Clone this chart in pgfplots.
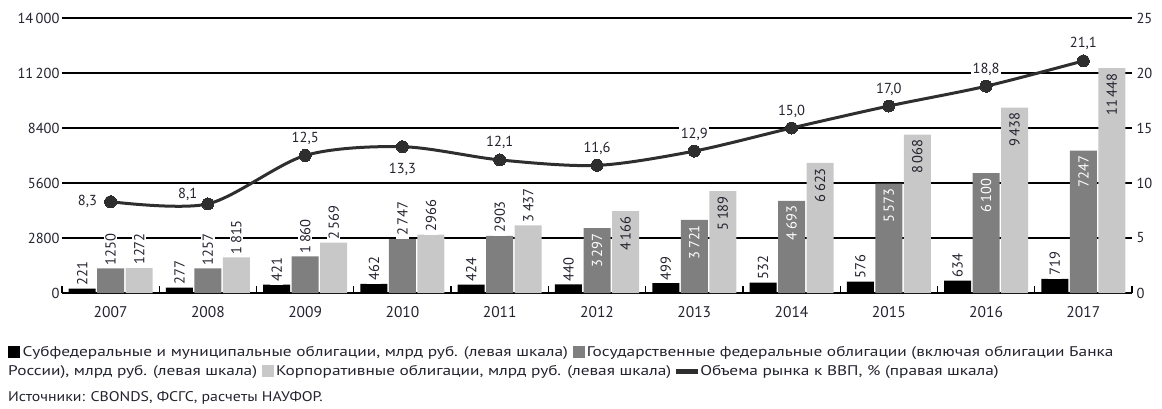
\documentclass[border=0pt]{standalone}
\usepackage{pgfplots}
\pgfplotsset{compat=1.18}
\usepackage{fontspec}
\setmainfont{PT Sans}
\newfontfamily\legfont{PT Sans}[FakeStretch=1.235]
\newfontfamily\srcfont{PT Sans}[FakeStretch=1.13]
\definecolor{cgrey}{HTML}{7F7F7F}
\definecolor{clight}{HTML}{C8C8C8}
\definecolor{cline}{HTML}{2E2E2E}
\definecolor{ctext}{HTML}{23232F}
\newcommand{\lf}{\fontsize{14.5}{16}\selectfont}
\begin{document}
\begin{tikzpicture}[x=1pt,y=1pt]
\path[use as bounding box] (-62,-115) rectangle (1100,293);
\begin{axis}[
  at={(0,0)}, anchor=south west, scale only axis,
  width=1070pt, height=275pt,
  xmin=-0.5, xmax=10.5, ymin=0, ymax=14000,
  scaled y ticks=false,
  axis x line*=bottom, axis y line*=left,
  y axis line style={draw=none},
  x axis line style={line width=1.6pt, black},
  xtick={0,1,2,3,4,5,6,7,8,9,10},
  xticklabels={2007,2008,2009,2010,2011,2012,2013,2014,2015,2016,2017},
  minor xtick={-0.5,0.5,1.5,2.5,3.5,4.5,5.5,6.5,7.5,8.5,9.5,10.5},
  major tick length=0pt, minor tick length=7pt, tick align=inside,
  every minor tick/.style={black, line width=1.2pt},
  ytick={0,2800,5600,8400,11200,14000},
  yticklabels={0,2800,5600,8400,11\,200,14\,000},
  ytick style={draw=none},
  ymajorgrids, major grid style={black, line width=1.1pt},
  tick label style={font=\lf, text=ctext},
  xticklabel style={yshift=-10pt, font=\fontsize{15.5}{17}\selectfont},
  yticklabel style={xshift=1pt},
  clip=false,
]
% black bars
\addplot[ybar, bar width=27pt, bar shift=0pt, fill=black, draw=none,
  nodes near coords, point meta=explicit symbolic,
  every node near coord/.append style={rotate=90, anchor=west, fill=white, inner xsep=3pt, inner ysep=1.5pt, font=\lf, text=ctext}]
  coordinates {(-0.293,221)[221] (0.707,277)[277] (1.707,421)[421] (2.707,462)[462] (3.707,424)[424] (4.707,440)[440] (5.707,499)[499] (6.707,532)[532] (7.707,576)[576] (8.707,634)[634] (9.707,719)[719]};
% grey bars
\addplot[ybar, bar width=27pt, bar shift=0pt, fill=cgrey, draw=none]
  coordinates {(0,1250) (1,1257) (2,1860) (3,2747) (4,2903) (5,3297) (6,3721) (7,4693) (8,5573) (9,6100) (10,7247)};
\addplot[ybar, bar width=27pt, bar shift=0pt, fill=none, draw=none,
  nodes near coords, point meta=explicit symbolic,
  every node near coord/.append style={rotate=90, anchor=west, fill=white, inner xsep=3pt, inner ysep=1.5pt, font=\lf, text=ctext}]
  coordinates {(0,1250)[1250] (1,1257)[1257] (2,1860)[1\,860] (3,2747)[2\,747] (4,2903)[2903]};
\addplot[ybar, bar width=27pt, bar shift=0pt, fill=none, draw=none,
  nodes near coords, point meta=explicit symbolic,
  every node near coord/.append style={rotate=90, anchor=east, inner xsep=5pt, inner ysep=1.5pt, font=\lf, text=white}]
  coordinates {(5,3297)[3\,297] (6,3721)[3\,721] (7,4693)[4\,693] (8,5573)[5\,573] (9,6100)[6\,100] (10,7247)[7247]};
% light bars
\addplot[ybar, bar width=27pt, bar shift=0pt, fill=clight, draw=none]
  coordinates {(0.293,1272) (1.293,1815) (2.293,2569) (3.293,2966) (4.293,3437) (5.293,4166) (6.293,5189) (7.293,6623) (8.293,8068) (9.293,9438) (10.293,11448)};
\addplot[ybar, bar width=27pt, bar shift=0pt, fill=none, draw=none,
  nodes near coords, point meta=explicit symbolic,
  every node near coord/.append style={rotate=90, anchor=west, fill=white, inner xsep=3pt, inner ysep=1.5pt, font=\lf, text=ctext}]
  coordinates {(0.293,1272)[1272] (1.293,1815)[1\,815] (2.293,2569)[2\,569] (3.293,2966)[2966] (4.293,3437)[3\,437]};
\addplot[ybar, bar width=27pt, bar shift=0pt, fill=none, draw=none,
  nodes near coords, point meta=explicit symbolic,
  every node near coord/.append style={rotate=90, anchor=east, inner xsep=5pt, inner ysep=1.5pt, font=\lf, text=ctext}]
  coordinates {(5.293,4166)[4\,166] (6.293,5189)[5\,189] (7.293,6623)[6\,623] (8.293,8068)[8\,068] (9.293,9438)[9\,438] (10.293,11448)[11\,448]};
\end{axis}
\begin{axis}[
  at={(0,0)}, anchor=south west, scale only axis,
  width=1070pt, height=275pt,
  xmin=-0.5, xmax=10.5, ymin=0, ymax=25,
  axis x line=none, axis y line*=right,
  y axis line style={draw=none},
  ytick={0,5,10,15,20,25},
  yticklabels={0,5,10,15,20,25},
  ytick style={draw=none},
  tick label style={font=\lf, text=ctext},
  yticklabel style={xshift=1pt},
  clip=false,
]
\addplot[smooth, line width=3pt, color=cline, mark=*, mark size=6pt,
  mark options={fill=cline, draw=cline, line width=0pt}]
  coordinates {(0,8.3) (1,8.1) (2,12.5) (3,13.3) (4,12.1) (5,11.6) (6,12.9) (7,15.0) (8,17.0) (9,18.8) (10,21.1)};
\addplot[draw=none, nodes near coords, point meta=explicit symbolic,
  every node near coord/.append style={anchor=base, yshift=13pt, fill=white, inner sep=1.5pt, font=\lf, text=ctext}]
  coordinates {(2,12.5)[12,5] (4,12.1)[12,1] (5,11.6)[11,6] (6,12.9)[12,9] (7,15.0)[15,0] (8,17.0)[17,0] (9,18.8)[18,8] (10,21.1)[21,1]};
\addplot[draw=none, nodes near coords, point meta=explicit symbolic,
  every node near coord/.append style={anchor=base, yshift=-27pt, fill=white, inner sep=1.5pt, font=\lf, text=ctext}]
  coordinates {(3,13.3)[13,3]};
\addplot[draw=none, nodes near coords, point meta=explicit symbolic,
  every node near coord/.append style={anchor=east, xshift=-12pt, fill=white, inner sep=1.5pt, font=\lf, text=ctext}]
  coordinates {(0,8.3)[8,3]};
\addplot[draw=none, nodes near coords, point meta=explicit symbolic,
  every node near coord/.append style={anchor=base east, xshift=-9pt, yshift=5pt, fill=white, inner sep=1.5pt, font=\lf, text=ctext}]
  coordinates {(1,8.1)[8,1]};
\end{axis}
\node[anchor=west, inner sep=0pt, align=left, text=ctext, font=\legfont\fontsize{14}{19}\selectfont] at (-54,-69.5)
 {\textcolor{black}{\rule[-1pt]{12pt}{12pt}}\,Субфедеральные и муниципальные облигации, млрд руб. (левая шкала) \textcolor{cgrey}{\rule[-1pt]{12pt}{12pt}}\,Государственные федеральные облигации (включая облигации Банка\\
 России), млрд руб. (левая шкала) \textcolor{clight}{\rule[-1pt]{12pt}{12pt}}\,Корпоративные облигации, млрд руб. (левая шкала) \textcolor{cline}{\rule[2pt]{22pt}{5pt}}\,Объема рынка к ВВП, \% (правая шкала)};
\node[anchor=west, inner sep=0pt, text=ctext, font=\srcfont\fontsize{14}{18}\selectfont] at (-54,-104.5)
 {Источники: CBONDS, ФСГС, расчеты НАУФОР.};
\end{tikzpicture}
\end{document}
